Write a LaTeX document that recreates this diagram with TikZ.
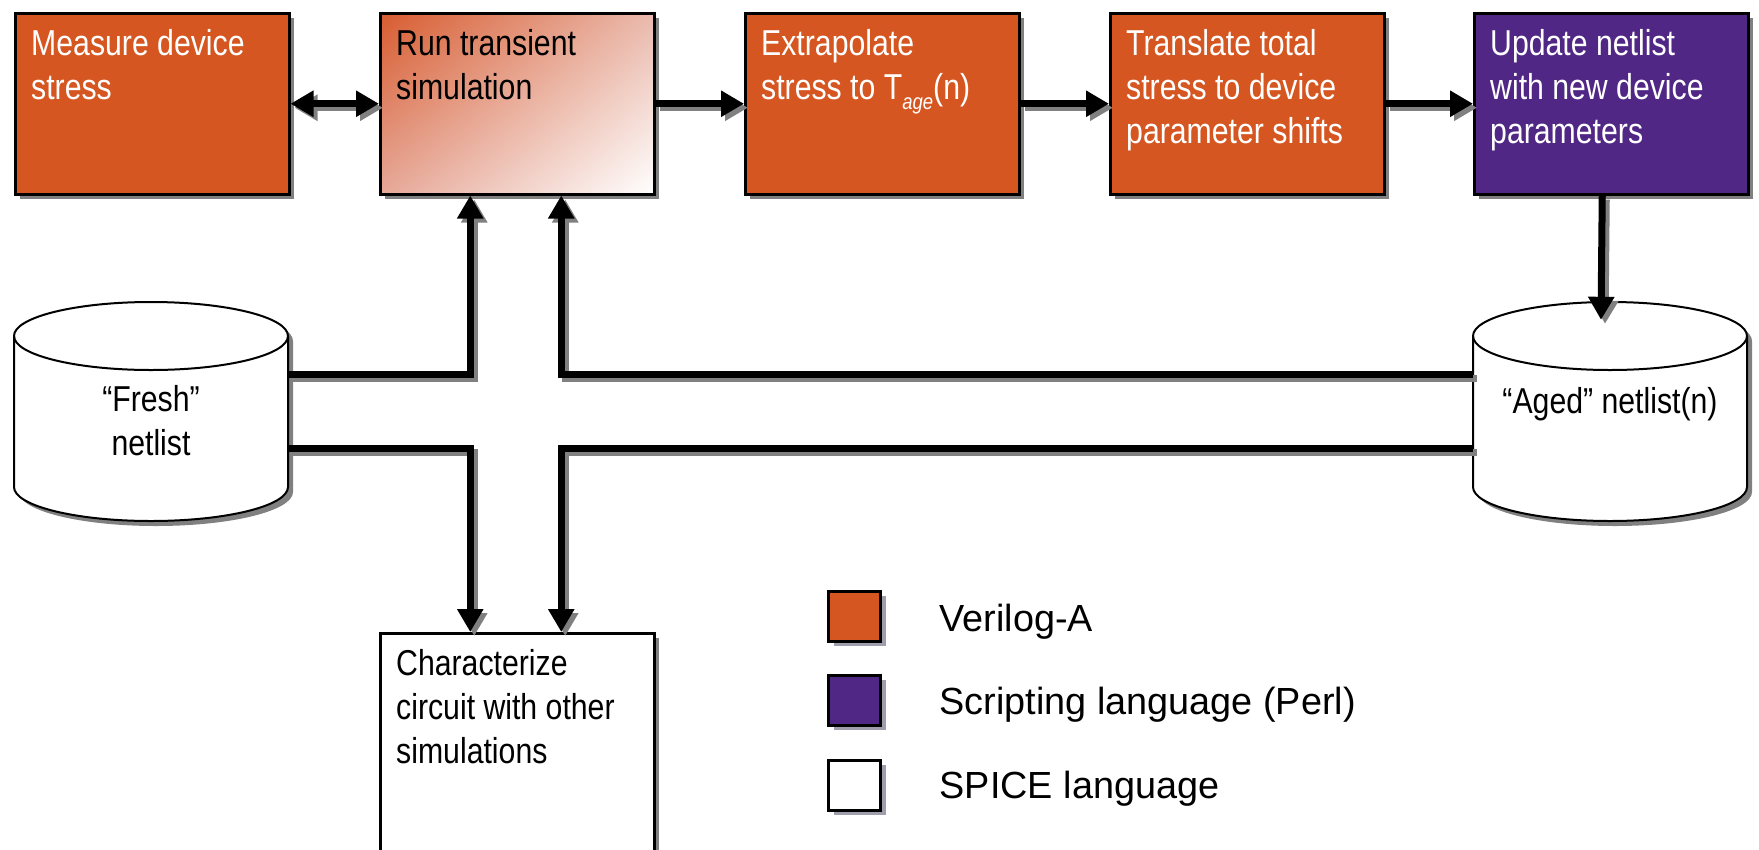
\documentclass[tikz,border=0pt]{standalone}
\usepackage{fontspec}
\setmainfont{Liberation Sans}[FakeStretch=0.84]
\newfontfamily\legfont{Liberation Sans}
\usetikzlibrary{arrows.meta,calc,shadings,shadows}
\definecolor{vorange}{RGB}{213,86,32}
\definecolor{vpurple}{RGB}{80,39,132}
\definecolor{shgray}{RGB}{128,128,128}
\definecolor{legshadow}{RGB}{158,158,172}
\definecolor{runUL}{RGB}{216,92,48}
\definecolor{runUR}{RGB}{234,186,173}
\definecolor{runLL}{RGB}{230,168,152}
\newcommand\boxtext[1]{\parbox[t]{262pt}{\raggedright #1}}
\newcommand\cyltext[1]{\parbox[t]{262pt}{\centering #1}}
\tikzset{
  every node/.style={font=\fontsize{36}{44}\selectfont},
  blk/.style={draw=black, line width=2.5pt, minimum width=274pt, minimum height=181pt,
    inner sep=0pt, anchor=north west,
    drop shadow={shadow xshift=5pt, shadow yshift=-5pt, fill=shgray, opacity=1}},
  leg/.style={draw=black, line width=2.5pt, minimum width=52pt, minimum height=50pt,
    inner sep=0pt, anchor=north west,
    drop shadow={shadow xshift=6pt, shadow yshift=-5pt, fill=legshadow, opacity=1}},
  wtxt/.style={anchor=base west, inner sep=0pt, text=white},
  btxt/.style={anchor=base west, inner sep=0pt, text=black},
  ltxt/.style={anchor=base west, inner sep=0pt, text=black, font=\legfont\fontsize{37.8}{44}\selectfont},
  ctxt/.style={anchor=base, inner sep=0pt, text=black},
  cyl/.style={minimum width=274pt, minimum height=219pt, inner sep=0pt},
  conn/.style={line width=7pt},
  tip/.tip={Triangle[length=23pt,width=25pt]},
}
\begin{document}
\begin{tikzpicture}[x=1pt,y=-1pt]
\useasboundingbox (0,0) rectangle (1759,849);
\clip (0,0) rectangle (1759,849);

% process boxes
\node[blk, fill=vorange] (measure) at (14,12) {};
\node[blk, upper left=runUL, upper right=runUR, lower left=runLL, lower right=white] (run) at (379,12) {};
\node[blk, fill=vorange] (extra) at (744,12) {};
\node[blk, fill=vorange] (trans) at (1109,12) {};
\node[blk, fill=vpurple] (update) at (1473,12) {};
\node[blk, fill=white, minimum height=260pt] (char) at (379,632) {};

\node[wtxt] (measuretxt) at ([shift={(17,43)}]measure.north west) {\boxtext{Measure device\\stress}};
\node[btxt] (runtxt) at ([shift={(17,43)}]run.north west) {\boxtext{Run transient\\simulation}};
\node[wtxt] (extratxt) at ([shift={(17,43)}]extra.north west) {\boxtext{Extrapolate\\stress to T\raisebox{-10pt}{\fontsize{22}{22}\selectfont\itshape age}(n)}};
\node[wtxt] (transtxt) at ([shift={(17,43)}]trans.north west) {\boxtext{Translate total\\stress to device\\parameter shifts}};
\node[wtxt] (updatetxt) at ([shift={(17,43)}]update.north west) {\boxtext{Update netlist\\with new device\\parameters}};
\node[btxt] (chartxt) at ([shift={(17,43)}]char.north west) {\boxtext{Characterize\\circuit with other\\simulations}};

% cylinders (netlists)
\foreach \cx in {151,1610}{
  \fill[shgray] (\cx-132,341) -- (\cx-132,492)
     arc[start angle=180,end angle=0,x radius=137,y radius=34]
     -- (\cx+142,341)
     arc[start angle=0,end angle=-180,x radius=137,y radius=34] -- cycle;
  \draw[fill=white, line width=2pt] (\cx-137,336) -- (\cx-137,487)
     arc[start angle=180,end angle=0,x radius=137,y radius=34]
     -- (\cx+137,336)
     arc[start angle=0,end angle=-180,x radius=137,y radius=34] -- cycle;
  \draw[line width=2pt] (\cx-137,336) arc[start angle=180,end angle=0,x radius=137,y radius=34];
}
\node[cyl] (fresh) at (151,411.5) {};
\node[cyl] (aged) at (1610,411.5) {};
\node[ctxt] (freshtxt) at (fresh.center) {\cyltext{“Fresh”\\netlist}};
\node[ctxt] (agedtxt) at ([yshift=-1.5pt]aged.center) {\cyltext{“Aged” netlist(n)}};

% connectors: shadow pass then black pass
\foreach \lc/\sh in {shgray/4pt, black/0pt}{
  \begin{scope}[transform canvas={shift={(\sh,-\sh)}}, conn/.append style={draw=\lc}]
    \draw[conn, tip-tip] (measure.east) -- (run.west);
    \draw[conn, -tip] (run.east) -- (extra.west);
    \draw[conn, -tip] (extra.east) -- (trans.west);
    \draw[conn, -tip] (trans.east) -- (update.west);
    \draw[conn, -tip] ([xshift=-9pt]update.south) -- ([shift={(-9,18)}]aged.north);
    \draw[conn, -tip] ([yshift=37pt]fresh.east) -| ([xshift=-47pt]run.south);
    \draw[conn, -tip] ([yshift=37pt]aged.west) -| ([xshift=44pt]run.south);
    \draw[conn, -tip] ([yshift=-37pt]fresh.east) -| ([xshift=-47pt]char.north);
    \draw[conn, -tip] ([yshift=-37pt]aged.west) -| ([xshift=44pt]char.north);
  \end{scope}
}

% legend
\node[leg, fill=vorange] (leg1) at (827,590) {};
\node[leg, fill=vpurple] (leg2) at (827,674) {};
\node[leg, fill=white] (leg3) at (827,759) {};
\node[ltxt] (leg1txt) at ([shift={(58,15)}]leg1.east) {Verilog-A};
\node[ltxt] (leg2txt) at ([shift={(58,14)}]leg2.east) {Scripting language (Perl)};
\node[ltxt] (leg3txt) at ([shift={(58,13)}]leg3.east) {SPICE language};
\end{tikzpicture}
\end{document}
